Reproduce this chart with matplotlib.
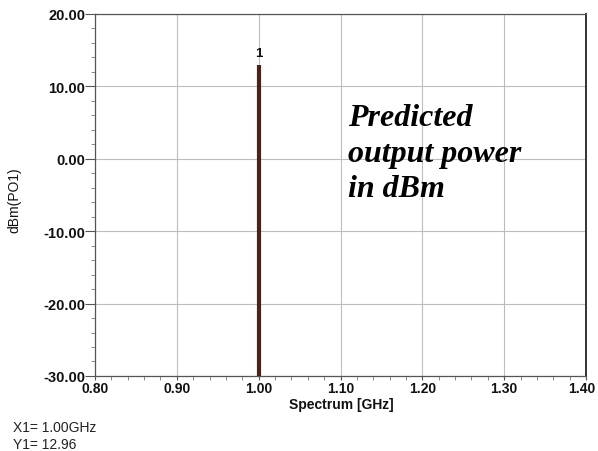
import matplotlib
matplotlib.use("Agg")
import matplotlib.pyplot as plt
import matplotlib.transforms as mtransforms
from matplotlib.ticker import MultipleLocator

freqs_ghz = [1.00]
power_dbm = [12.96]
marker_labels = ["1"]
x_ticks = [0.80, 0.90, 1.00, 1.10, 1.20, 1.30, 1.40]
y_ticks = [-30.0, -20.0, -10.0, 0.0, 10.0, 20.0]

fig = plt.figure(figsize=(5.98, 4.52), dpi=100)
ax = fig.add_axes([0.1589, 0.166, 0.8211, 0.801])
ax.set_xlim(0.80, 1.40)
ax.set_ylim(-30, 20)

ax.set_xticks(x_ticks)
ax.set_yticks(y_ticks)
ax.set_xticklabels([f"{v:.2f}" for v in x_ticks])
ax.set_yticklabels([f"{v:.2f}" for v in y_ticks])
ax.xaxis.set_minor_locator(MultipleLocator(0.02))
ax.yaxis.set_minor_locator(MultipleLocator(2))
ax.tick_params(axis='y', which='major', direction='out', length=7, width=0.8,
               color='#555555', labelsize=10.5, pad=0)
ax.tick_params(axis='x', which='major', direction='out', length=3, width=0.8,
               color='#555555', labelsize=10, pad=0.5)
ax.tick_params(axis='both', which='minor', direction='out', length=3, width=0.6,
               color='#777777')
for lab in ax.get_xticklabels() + ax.get_yticklabels():
    lab.set_fontweight('bold')
    lab.set_family('Liberation Sans')
    lab.set_color('#111111')

# keep the last x label inside the figure, as in the reference
last = ax.get_xticklabels()[-1]
last.set_transform(last.get_transform() +
                   mtransforms.ScaledTranslation(-4/100, 0, fig.dpi_scale_trans))

ax.grid(True, which='major', color='#bdbdbd', linewidth=0.8)
ax.set_axisbelow(True)
for s in ['left', 'bottom', 'top']:
    ax.spines[s].set_color('#555555')
    ax.spines[s].set_linewidth(0.9)
ax.spines['right'].set_color('#333333')
ax.spines['right'].set_linewidth(1.4)

ax.vlines(freqs_ghz, -30, power_dbm, color='#4a2218', linewidth=3.0, zorder=3)
for f, p, m in zip(freqs_ghz, power_dbm, marker_labels):
    ax.annotate(m, (f, p), xytext=(0, 4), textcoords='offset points',
                ha='center', va='bottom', fontsize=9.5, fontweight='bold',
                family='Liberation Sans', color='#111111')

ax.set_xlabel("Spectrum [GHz]", fontsize=10, fontweight='bold',
              family='Liberation Sans', labelpad=0, color='#111111')
ax.xaxis.set_label_coords(0.502, -0.058)
ax.set_ylabel("dBm(PO1)", fontsize=10, family='Liberation Sans', color='#111111')
ax.yaxis.set_label_coords(-0.15, 0.489)

ax.text(1.109, 7.65, "Predicted\noutput power\nin dBm", fontsize=23,
        family='Liberation Serif', fontweight='bold', fontstyle='italic',
        ha='left', va='top', linespacing=1.28, color='#000000')

fig.text(13/598, 1 - 428/452, "X1= 1.00GHz", fontsize=10, family='Liberation Sans',
         va='center', ha='left', color='#222222')
fig.text(13/598, 1 - 445/452, "Y1= 12.96", fontsize=10, family='Liberation Sans',
         va='center', ha='left', color='#222222')

fig.savefig("out.png", dpi=100)
